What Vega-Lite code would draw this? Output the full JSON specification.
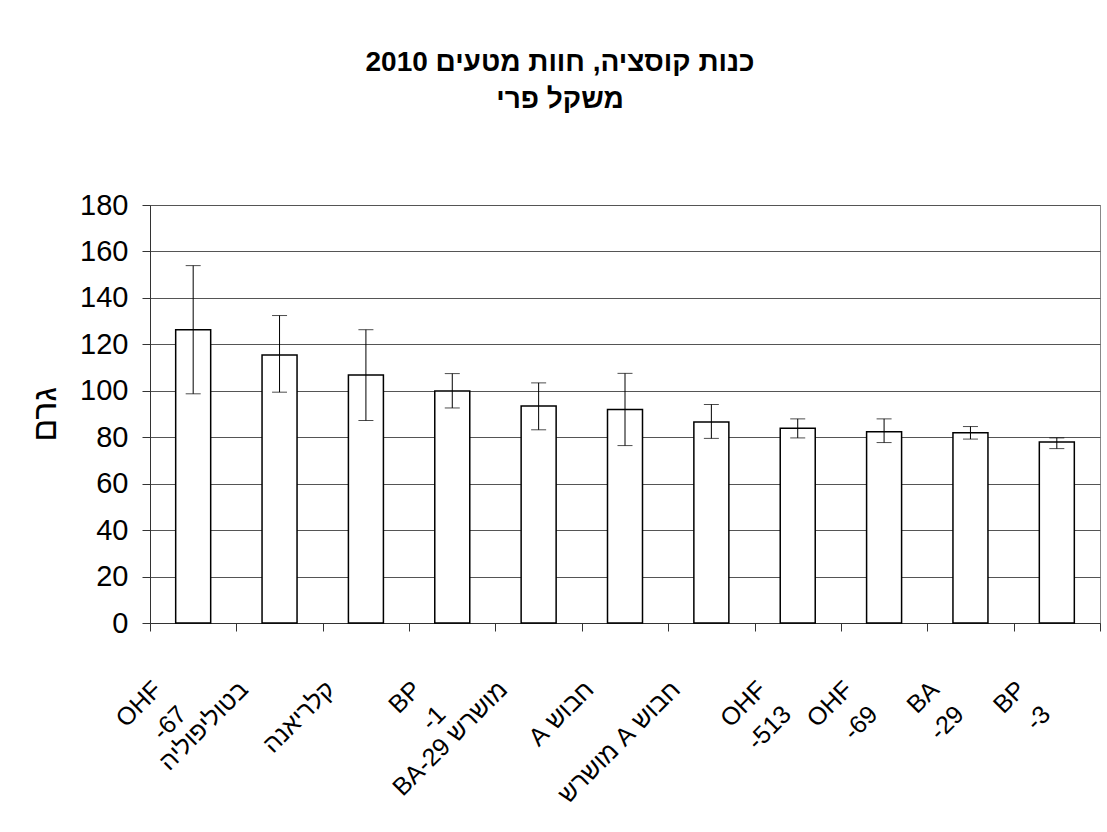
{
  "$schema": "https://vega.github.io/schema/vega-lite/v6.json",
  "width": 950,
  "height": 418,
  "autosize": {"type": "none"},
  "padding": {"left": 150, "top": 205, "right": 7, "bottom": 209},
  "background": "white",
  "title": {
    "text": ["כנות קוסציה, חוות מטעים 2010", "משקל פרי"],
    "fontSize": 28,
    "font": "Liberation Sans",
    "fontWeight": "bold",
    "color": "black",
    "anchor": "middle",
    "offset": 77,
    "dx": -65,
    "lineHeight": 37
  },
  "data": {
    "values": [
      {"cat": "OHF\n-67", "mean": 126.3, "lo": 98.7, "hi": 153.9},
      {"cat": "בטוליפוליה", "mean": 115.4, "lo": 99.4, "hi": 132.4},
      {"cat": "קלריאנה", "mean": 106.8, "lo": 87.2, "hi": 126.3},
      {"cat": "BP\n-1", "mean": 99.9, "lo": 92.6, "hi": 107.4},
      {"cat": "BA-29 מושרש", "mean": 93.4, "lo": 83.2, "hi": 103.4},
      {"cat": "\u202Bחבוש A\u202C", "mean": 91.9, "lo": 76.4, "hi": 107.5},
      {"cat": "\u202Bחבוש A מושרש\u202C", "mean": 86.6, "lo": 79.5, "hi": 94.1},
      {"cat": "OHF\n-513", "mean": 83.9, "lo": 79.7, "hi": 87.9},
      {"cat": "OHF\n-69", "mean": 82.4, "lo": 77.7, "hi": 87.9},
      {"cat": "BA\n-29", "mean": 81.9, "lo": 79.2, "hi": 84.6},
      {"cat": "BP\n-3", "mean": 77.9, "lo": 75.1, "hi": 79.7}
    ]
  },
  "encoding": {
    "x": {
      "field": "cat",
      "type": "nominal",
      "sort": null,
      "scale": {"paddingInner": 0, "paddingOuter": 0},
      "axis": {
        "title": null,
        "labelAngle": -45,
        "labelAlign": "right",
        "labelBaseline": "middle",
        "labelFontSize": 25,
        "labelFont": "Liberation Sans",
        "labelColor": "black",
        "labelPadding": 54,
        "labelOffset": -36,
        "labelExpr": "split(datum.label, '\\n')",
        "labelLineHeight": 35,
        "labelOverlap": false,
        "labelLimit": 400,
        "labelBound": false,
        "tickBand": "extent",
        "tickSize": 8,
        "tickColor": "#333333",
        "domainColor": "#333333",
        "grid": false
      }
    }
  },
  "layer": [
    {
      "mark": {"type": "bar", "fill": "white", "stroke": "black", "strokeWidth": 1.5, "size": 35},
      "encoding": {
        "y": {
          "field": "mean",
          "type": "quantitative",
          "scale": {"domain": [0, 180]},
          "axis": {
            "title": "גרם",
            "titleFontSize": 34,
            "titleFontWeight": "normal",
            "titleFont": "Liberation Sans",
            "titleColor": "black",
            "titlePadding": 17,
            "values": [0, 20, 40, 60, 80, 100, 120, 140, 160, 180],
            "labelFontSize": 29,
            "labelFont": "Liberation Sans",
            "labelColor": "black",
            "labelPadding": 14,
            "tickSize": 8,
            "tickColor": "#333333",
            "domainColor": "#333333",
            "gridColor": "#555555",
            "gridOpacity": 1
          }
        }
      }
    },
    {
      "mark": {"type": "errorbar", "color": "black", "thickness": 1, "ticks": {"size": 15, "color": "black"}},
      "encoding": {
        "y": {"field": "lo", "type": "quantitative", "title": "גרם"},
        "y2": {"field": "hi"}
      }
    }
  ],
  "config": {
    "font": "Liberation Sans",
    "view": {"stroke": "#888888"}
  }
}
